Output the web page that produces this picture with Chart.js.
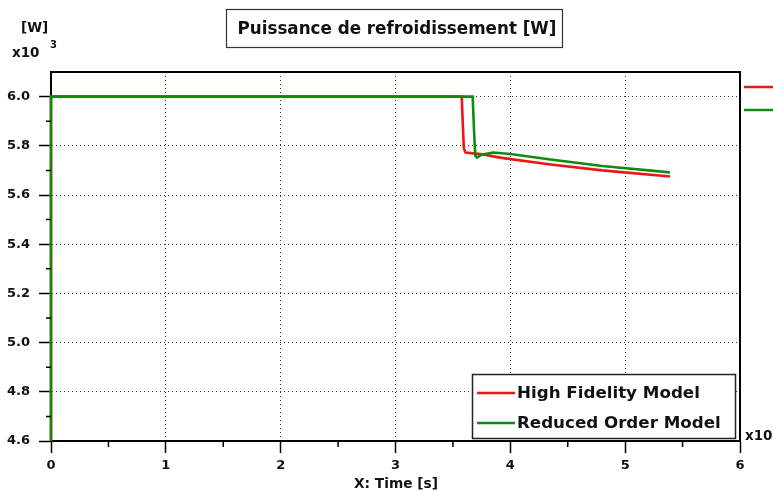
<!DOCTYPE html>
<html>
<head>
<meta charset="utf-8">
<script src="https://cdn.jsdelivr.net/npm/chart.js@4/dist/chart.umd.min.js"></script>
<style>
html,body{margin:0;padding:0;background:#fff;}
#wrap{width:773px;height:491px;position:relative;}
</style>
</head>
<body>
<div id="wrap"><canvas id="c" width="773" height="491"></canvas></div>
<script>
// ---- data ----
const chartTitle = "Puissance de refroidissement [W]";
const xAxisTitle = "X: Time [s]";
const yUnit = "[W]";
const xTickLabels = [0, 1, 2, 3, 4, 5, 6];
const yTickLabels = [4.6, 4.8, 5.0, 5.2, 5.4, 5.6, 5.8, 6.0];
const seriesNames = ["High Fidelity Model", "Reduced Order Model"];

const hfTime  = [0,   0,   3.577, 3.585, 3.595, 3.61,  3.76,  3.91,  4.35,  4.8,   5.39];
const hfPower = [4.6, 6.0, 6.0,   5.9,   5.79,  5.773, 5.765, 5.752, 5.724, 5.700, 5.675];

const romTime  = [0,   0,   3.672, 3.685, 3.695, 3.71,  3.75,  3.85,  4.0,   4.35,  4.8,   5.39];
const romPower = [4.6, 6.0, 6.0,   5.85,  5.76,  5.752, 5.764, 5.773, 5.767, 5.744, 5.718, 5.692];

const FONT = "'DejaVu Sans', Verdana, sans-serif";

function pts(xs, ys){ return xs.map((x,i)=>({x:x, y:ys[i]})); }

function fitFont(ctx, text, width, weight){
  let size = 20;
  ctx.font = weight + " " + size + "px " + FONT;
  const w = ctx.measureText(text).width;
  size = size * width / w;
  return weight + " " + size.toFixed(2) + "px " + FONT;
}

const decor = {
  id: 'decor',
  afterDraw(chart){
    const ctx = chart.ctx;
    const ca = chart.chartArea;
    const xs = chart.scales.x, ys = chart.scales.y;
    ctx.save();
    // frame
    ctx.strokeStyle = '#000';
    ctx.lineWidth = 2;
    ctx.beginPath();
    ctx.moveTo(ca.left, ca.top); ctx.lineTo(ca.right, ca.top); ctx.lineTo(ca.right, ca.bottom);
    ctx.stroke();
    // minor ticks
    ctx.lineWidth = 1.5;
    ctx.beginPath();
    for (let i = 0; i < xTickLabels.length - 1; i++){
      const px = xs.getPixelForValue((xTickLabels[i] + xTickLabels[i+1]) / 2);
      ctx.moveTo(px, ca.bottom); ctx.lineTo(px, ca.bottom + 6);
    }
    for (let i = 0; i < yTickLabels.length - 1; i++){
      const py = ys.getPixelForValue((yTickLabels[i] + yTickLabels[i+1]) / 2);
      ctx.moveTo(ca.left, py); ctx.lineTo(ca.left - 5, py);
    }
    ctx.stroke();

    ctx.fillStyle = '#111';
    ctx.textBaseline = 'middle';
    // title box
    ctx.font = fitFont(ctx, chartTitle, 319, 'bold');
    ctx.textAlign = 'center';
    ctx.fillText(chartTitle, 397, 30);
    ctx.strokeStyle = '#333';
    ctx.lineWidth = 1.2;
    ctx.strokeRect(226.5, 9.5, 336, 38);

    // unit labels
    ctx.textAlign = 'left';
    ctx.font = "bold 13.5px " + FONT;
    ctx.fillText(yUnit, 21, 28);
    ctx.fillText("x10", 12, 53);
    ctx.font = "bold 10px " + FONT;
    ctx.fillText("3", 50, 45);
    ctx.font = "bold 13.5px " + FONT;
    ctx.fillText("x10", 745, 436);

    // x axis title
    ctx.textAlign = 'center';
    ctx.font = fitFont(ctx, xAxisTitle, 84, 'bold');
    ctx.fillText(xAxisTitle, 396, 484);

    // legend box
    const ds = chart.data.datasets;
    const order = [1, 0];
    ctx.fillStyle = '#fff';
    ctx.fillRect(472, 374, 264, 65);
    ctx.strokeStyle = '#222';
    ctx.lineWidth = 1.5;
    ctx.strokeRect(472.5, 374.5, 263, 64);
    ctx.textAlign = 'left';
    ctx.font = fitFont(ctx, seriesNames[0], 183, 'bold');
    const rowsY = [393, 423];
    order.forEach((di, r) => {
      const d = ds[di];
      ctx.strokeStyle = d.borderColor;
      ctx.lineWidth = 2.5;
      ctx.beginPath();
      ctx.moveTo(477, rowsY[r]); ctx.lineTo(515, rowsY[r]);
      ctx.stroke();
      ctx.fillStyle = '#111';
      ctx.fillText(d.label, 517, rowsY[r] + 1);
      // truncated side markers at right edge
      ctx.beginPath();
      ctx.moveTo(744, [87, 110][r]); ctx.lineTo(773, [87, 110][r]);
      ctx.stroke();
    });
    ctx.restore();
  }
};

new Chart(document.getElementById('c'), {
  type: 'scatter',
  data: {
    datasets: [
      { label: seriesNames[1], data: pts(romTime, romPower), showLine: true,
        borderColor: '#118a11', backgroundColor: '#118a11', borderWidth: 2.6,
        pointRadius: 0, tension: 0, order: 0, clip: false },
      { label: seriesNames[0], data: pts(hfTime, hfPower), showLine: true,
        borderColor: '#f01414', backgroundColor: '#f01414', borderWidth: 2.6,
        pointRadius: 0, tension: 0, order: 1, clip: false }
    ]
  },
  options: {
    responsive: false,
    animation: false,
    devicePixelRatio: 1,
    layout: { padding: { top: 72, right: 33, left: 0, bottom: 0 } },
    plugins: { legend: { display: false }, title: { display: false }, tooltip: { enabled: false } },
    scales: {
      x: {
        type: 'linear', min: 0, max: 6,
        afterFit(s){ s.height = 50; },
        afterBuildTicks(s){ s.ticks = xTickLabels.map(v => ({ value: v })); },
        ticks: { color: '#111', padding: 5, font: { family: FONT, size: 13, weight: 'bold' },
                 callback: v => String(v), maxRotation: 0 },
        grid: { color: '#333', lineWidth: 1, tickColor: '#000',
                tickBorderDash: [], tickWidth: 1.5, tickLength: 12 },
        border: { display: true, color: '#000', width: 2, dash: [1, 3] }
      },
      y: {
        type: 'linear', min: 4.6, max: 6.1,
        afterFit(s){ s.width = 51; },
        afterBuildTicks(s){ s.ticks = yTickLabels.map(v => ({ value: v })); },
        ticks: { color: '#111', padding: 9, font: { family: FONT, size: 13, weight: 'bold' },
                 callback: v => Number(v).toFixed(1) },
        grid: { color: '#333', lineWidth: 1, tickColor: '#000',
                tickBorderDash: [], tickWidth: 1.5, tickLength: 12 },
        border: { display: true, color: '#000', width: 2, dash: [1, 3] }
      }
    }
  },
  plugins: [decor]
});
</script>
</body>
</html>
